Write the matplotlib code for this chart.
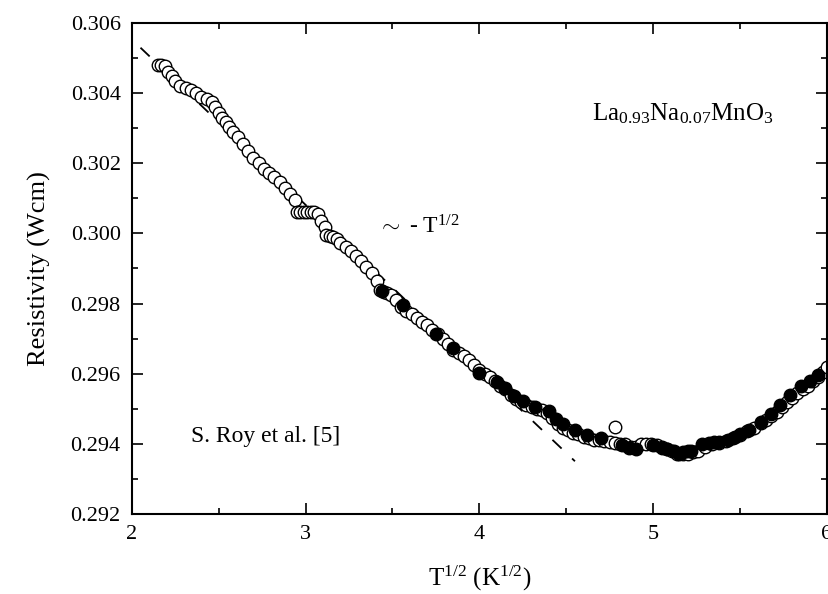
import matplotlib
matplotlib.use("Agg")
import matplotlib.pyplot as plt
from matplotlib.ticker import MultipleLocator, FormatStrFormatter

plt.rcParams['font.family'] = ['Liberation Serif', 'DejaVu Serif']
plt.rcParams['mathtext.fontset'] = 'custom'
plt.rcParams['mathtext.rm'] = 'Liberation Serif'
plt.rcParams['mathtext.it'] = 'Liberation Serif:italic'

# open circles (series 1)
open_x = [2.15, 2.17, 2.19, 2.21, 2.23, 2.25, 2.28, 2.31, 2.34, 2.37, 2.40, 2.43, 2.46, 2.48,
          2.50, 2.52, 2.54, 2.56, 2.58, 2.61, 2.64, 2.67, 2.70, 2.73, 2.76, 2.79, 2.82, 2.85,
          2.88, 2.91, 2.94, 2.95, 2.97, 2.99, 3.01, 3.03, 3.05, 3.07, 3.09, 3.11, 3.12, 3.14,
          3.16, 3.18, 3.20, 3.23, 3.26, 3.29, 3.32, 3.35, 3.38, 3.41, 3.43, 3.45, 3.47, 3.49,
          3.52, 3.55, 3.58, 3.61, 3.64, 3.67, 3.70, 3.73, 3.76, 3.79, 3.82, 3.85, 3.88, 3.91,
          3.94, 3.97, 4.00, 4.03, 4.06, 4.09, 4.12, 4.15, 4.18, 4.21, 4.24, 4.27, 4.30, 4.33,
          4.36, 4.39, 4.42, 4.45, 4.48, 4.51, 4.54, 4.57, 4.60, 4.63, 4.66, 4.69, 4.72, 4.75,
          4.78, 4.81, 4.84, 4.87, 4.90, 4.93, 4.96, 4.99, 5.02, 5.05, 5.08, 5.11, 5.14, 5.17,
          5.20, 5.23, 5.26, 5.30, 5.34, 5.38, 5.42, 5.46, 5.50, 5.54, 5.58, 5.62, 5.65, 5.68,
          5.71, 5.74, 5.77, 5.80, 5.83, 5.86, 5.89, 5.92, 5.95, 5.98, 6.00, 4.78]
open_y = [0.30480, 0.30482, 0.30478, 0.30462, 0.30448, 0.30435, 0.30420, 0.30415, 0.30408,
          0.30400, 0.30390, 0.30385, 0.30375, 0.30362, 0.30345, 0.30330, 0.30318, 0.30305,
          0.30290, 0.30275, 0.30255, 0.30235, 0.30215, 0.30200, 0.30185, 0.30172, 0.30160,
          0.30148, 0.30130, 0.30112, 0.30095, 0.30062, 0.30060, 0.30060, 0.30060, 0.30060,
          0.30060, 0.30055, 0.30035, 0.30018, 0.29995, 0.29993, 0.29990, 0.29985, 0.29972,
          0.29960, 0.29950, 0.29935, 0.29920, 0.29905, 0.29888, 0.29865, 0.29838, 0.29832,
          0.29830, 0.29825, 0.29810, 0.29790, 0.29778, 0.29770, 0.29760, 0.29748, 0.29738,
          0.29725, 0.29712, 0.29700, 0.29685, 0.29668, 0.29660, 0.29650, 0.29640, 0.29625,
          0.29610, 0.29598, 0.29590, 0.29578, 0.29565, 0.29555, 0.29540, 0.29528, 0.29518,
          0.29510, 0.29505, 0.29500, 0.29495, 0.29488, 0.29472, 0.29455, 0.29445, 0.29438,
          0.29432, 0.29428, 0.29420, 0.29415, 0.29412, 0.29410, 0.29408, 0.29405, 0.29402,
          0.29400, 0.29398, 0.29390, 0.29392, 0.29398, 0.29400, 0.29398, 0.29395, 0.29390,
          0.29385, 0.29378, 0.29372, 0.29370, 0.29372, 0.29375, 0.29380, 0.29390, 0.29398,
          0.29402, 0.29408, 0.29415, 0.29425, 0.29435, 0.29445, 0.29458, 0.29468, 0.29478,
          0.29490, 0.29505, 0.29518, 0.29530, 0.29545, 0.29555, 0.29565, 0.29578, 0.29590,
          0.29605, 0.29618, 0.29448]

# filled circles (series 2)
fill_x = [3.44, 3.56, 3.75, 3.85, 4.00, 4.10, 4.15, 4.20, 4.25, 4.32, 4.40, 4.44, 4.48,
          4.55, 4.62, 4.70, 4.82, 4.86, 4.90, 5.00, 5.05, 5.08, 5.12, 5.15, 5.17, 5.20,
          5.22, 5.28, 5.32, 5.35, 5.38, 5.43, 5.47, 5.50, 5.55, 5.62, 5.68, 5.73, 5.79,
          5.85, 5.90, 5.95]
fill_y = [0.29835, 0.29795, 0.29712, 0.29672, 0.29602, 0.29575, 0.29558, 0.29535, 0.29522,
          0.29506, 0.29492, 0.29470, 0.29455, 0.29440, 0.29425, 0.29415, 0.29395, 0.29388,
          0.29385, 0.29395, 0.29388, 0.29385, 0.29378, 0.29372, 0.29375, 0.29378, 0.29380,
          0.29398, 0.29402, 0.29404, 0.29406, 0.29412, 0.29420, 0.29428, 0.29440, 0.29462,
          0.29484, 0.29510, 0.29540, 0.29565, 0.29580, 0.29596]

# T^1/2 fit line
fit_x = [2.05, 4.55]
fit_y = [0.30530, 0.29350]

fig = plt.figure(figsize=(8.29, 5.94), dpi=100)
ax = fig.add_axes([0.159, 0.135, 0.8385, 0.826])

ax.plot(fit_x, fit_y, color='black', lw=1.3, dashes=(7, 8), zorder=1)
ax.plot(open_x, open_y, 'o', ms=9, mfc='white', mec='black', mew=1.0, zorder=2)
ax.plot(fill_x, fill_y, 'o', ms=9, mfc='black', mec='black', mew=1.0, zorder=3)

ax.set_xlim(2, 6)
ax.set_ylim(0.292, 0.306)
ax.xaxis.set_major_locator(MultipleLocator(1))
ax.xaxis.set_minor_locator(MultipleLocator(0.5))
ax.yaxis.set_major_locator(MultipleLocator(0.002))
ax.yaxis.set_minor_locator(MultipleLocator(0.001))
ax.yaxis.set_major_formatter(FormatStrFormatter('%.3f'))
ax.tick_params(which='both', direction='in', top=True, right=True, width=1.2, labelsize=16)
ax.tick_params(which='major', length=8, pad=8)
ax.tick_params(which='minor', length=4)
for s in ax.spines.values():
    s.set_linewidth(1.5)

ax.set_xlabel(r'T$^{1/2}$ (K$^{1/2}$)', fontsize=18, labelpad=14)
ax.set_ylabel('Resistivity (Wcm)', fontsize=19, labelpad=14)

ax.text(4.65, 0.30323, r'La$_{\mathit{0.93}}$Na$_{\mathit{0.07}}$MnO$_{\mathit{3}}$', fontsize=18,
        ha='left', va='baseline')
ax.text(3.418, 0.30001, r'$\sim$ - T$^{1/2}$', fontsize=17, ha='left', va='baseline')
ax.text(2.77, 0.2942, 'S. Roy et al. [5]', fontsize=17, ha='center', va='center')

fig.savefig('out.png', dpi=100)
